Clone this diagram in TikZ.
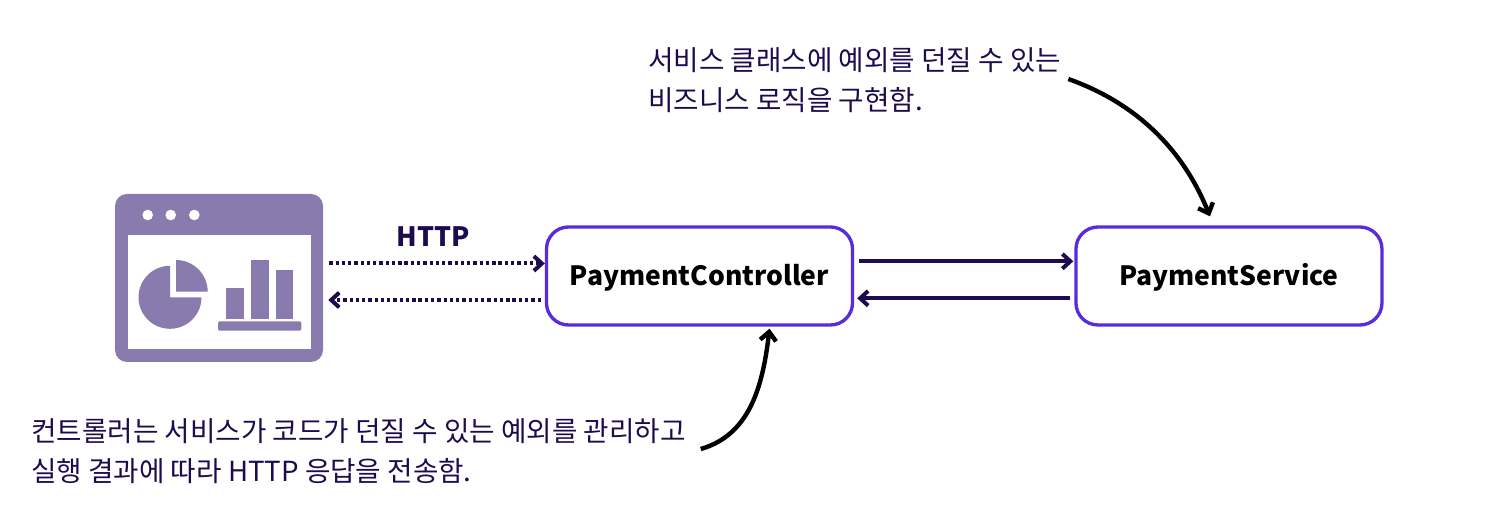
\documentclass[tikz,border=0pt]{standalone}
\usepackage{fontspec}
\setmainfont{Noto Sans CJK KR}
\usepackage{xcolor}
\usetikzlibrary{positioning, calc, arrows.meta}
\definecolor{inkdark}{HTML}{1D0B4E}
\definecolor{boxline}{HTML}{5A2BDB}
\definecolor{iconfill}{HTML}{8A7BAF}
\tikzstyle{process} = [rectangle, rounded corners=16.5pt, minimum width=229.5pt, minimum height=73.5pt, text centered, draw=boxline, line width=2.5pt, font=\fontsize{19.9}{24}\selectfont\bfseries, text=black, text height=19pt, text depth=5pt]
\tikzstyle{note} = [align=left, anchor=west, inner sep=0pt, font=\fontsize{20.75}{30}\selectfont, text=inkdark]
\tikzstyle{arrow} = [line width=3pt, draw=inkdark, -{Straight Barb[length=6pt,width=11pt]}]
\tikzstyle{dotarrow} = [arrow, dash pattern=on 2.5pt off 2.2pt]
\tikzstyle{pointer} = [line width=3.3pt, draw=black, -{Straight Barb[length=6.5pt,width=12pt]}]
\tikzstyle{icon} = [fill=iconfill, draw=none]
\begin{document}
\begin{tikzpicture}[x=0.75pt,y=0.75pt]
	\useasboundingbox (0,0) rectangle (1494,528);
	% browser window
	\node (app) [icon, rectangle, rounded corners=9pt, minimum width=156pt, minimum height=126pt, inner sep=0pt] at (219,250) {};
	\fill[white] (128,293) rectangle (311,179);
	\foreach \dotx in {147.7,170.7,194.3}
		\fill[white] (\dotx,313) circle (5.3);
	\fill[icon] (170,230.7) -- (170,262.2) arc (90:360:31.5) -- cycle;
	\fill[icon] (176,236.3) -- (176,268) arc (90:0:31.7) -- cycle;
	\fill[icon] (226,209) rectangle (244.3,239.7);
	\fill[icon] (251,209) rectangle (268.7,267.7);
	\fill[icon] (275.7,209) rectangle (293.3,257.7);
	\fill[icon, rounded corners=1pt] (218,197.3) rectangle (301.3,206.7);
	% boxes
	\node (ctrl) [process] at (699.5,252) {PaymentController};
	\node (svc) [process, right of=ctrl, node distance=397.1pt] {PaymentService};
	\node (http) [font=\fontsize{20}{24}\selectfont\bfseries, text=inkdark, inner sep=0pt] at (433,291) {HTTP};
	\node (svcnote) [note] at (648,448) {서비스 클래스에 예외를 던질 수 있는\\비즈니스 로직을 구현함.};
	\node (ctrlnote) [note] at (31,77) {컨트롤러는 서비스가 코드가 던질 수 있는 예외를 관리하고\\실행 결과에 따라 HTTP 응답을 전송함.};
	% arrows
	\draw [dotarrow] ($(app.east)+(6,14.5)$) -- ($(ctrl.west)+(0,12.5)$);
	\draw [dotarrow] ($(ctrl.west)+(-4,-24)$) -- ($(app.east)+(5,-22)$);
	\draw [arrow] ($(ctrl.east)+(5,14.7)$) -- ($(svc.west)+(-1,14.7)$);
	\draw [arrow] ($(svc.west)+(-4,-22.3)$) -- ($(ctrl.east)+(3,-22.3)$);
	\draw [pointer] ($(svcnote.east)+(7,1)$) .. controls +(73,-26) and +(-25,62) .. ($(svc.north)+(-19,9)$);
	\draw [pointer] ($(ctrlnote.east)+(15,2)$) .. controls +(48,14) and +(-7,-60) .. ($(ctrl.south)+(70,-2)$);
\end{tikzpicture}
\end{document}
